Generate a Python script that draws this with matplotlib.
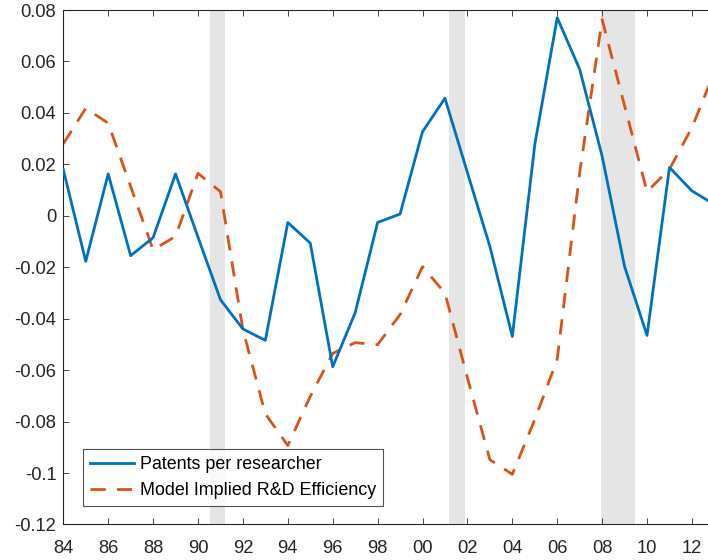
import matplotlib
matplotlib.use("Agg")
import matplotlib.pyplot as plt
import numpy as np

# Data
years = list(range(1984, 2014))
patents = [0.018, -0.0177, 0.0163, -0.0155, -0.0085, 0.0163, -0.0083, -0.0326,
           -0.044, -0.0484, -0.0026, -0.0106, -0.0587, -0.0377, -0.0026, 0.0007,
           0.0327, 0.0457, 0.0168, -0.0119, -0.0469, 0.0276, 0.0770, 0.0570,
           0.0232, -0.0197, -0.0465, 0.0188, 0.0097, 0.0044]
model = [0.028, 0.0418, 0.036, 0.0114, -0.0132, -0.008, 0.0165, 0.0094,
         -0.0443, -0.077, -0.0893, -0.0702, -0.0535, -0.0493, -0.0501, -0.0384,
         -0.0198, -0.030, -0.063, -0.0948, -0.1005, -0.0792, -0.0558, 0.0167,
         0.0763, 0.0428, 0.0094, 0.0181, 0.0343, 0.0558]
recessions = [(1990.55, 1991.2), (2001.2, 2001.88), (2007.96, 2009.45)]

series_labels = ["Patents per researcher", "Model Implied R&D Efficiency"]
xticks = list(range(1984, 2013, 2))
xtick_labels = ["%02d" % (y % 100) for y in xticks]
yticks = [-0.12, -0.1, -0.08, -0.06, -0.04, -0.02, 0, 0.02, 0.04, 0.06, 0.08]
ytick_labels = ["-0.12", "-0.1", "-0.08", "-0.06", "-0.04", "-0.02", "0",
                "0.02", "0.04", "0.06", "0.08"]

plt.rcParams['font.family'] = ['Liberation Sans', 'DejaVu Sans']
axis_color = '#262626'

fig = plt.figure(figsize=(7.08, 5.6), dpi=100)
# axes runs slightly past the right edge, like the cropped original
ax = fig.add_axes([0.0894, 0.0634, 0.9196, 0.9187])

for start, end in recessions:
    ax.axvspan(start, end, color='#e5e5e5', lw=0, zorder=0)

ax.plot(years, patents, color='#0072BD', lw=2, label=series_labels[0], zorder=3)
ax.plot(years, model, color='#D95319', lw=2, ls=(0, (5.5, 4)),
        label=series_labels[1], zorder=2)

ax.set_xlim(1984, 2013)
ax.set_ylim(-0.12, 0.08)
ax.set_xticks(xticks)
ax.set_xticklabels(xtick_labels)
ax.set_yticks(yticks)
ax.set_yticklabels(ytick_labels)

ax.tick_params(direction='in', length=4.3, width=0.6, colors=axis_color,
               labelsize=13.2, top=True, right=True, pad=5)
ax.tick_params(axis='x', pad=11)
for spine in ax.spines.values():
    spine.set_color(axis_color)
    spine.set_linewidth(0.8)

leg = ax.legend(loc='lower left', bbox_to_anchor=(0.0305, 0.035),
                fontsize=12.9, frameon=True, fancybox=False,
                handlelength=2.45, handletextpad=0.3, borderpad=0.4,
                labelspacing=0.5, borderaxespad=0)
leg.get_frame().set_edgecolor(axis_color)
leg.get_frame().set_linewidth(0.8)
for text in leg.get_texts():
    text.set_color('#000000')

fig.savefig("out.png", dpi=100)
